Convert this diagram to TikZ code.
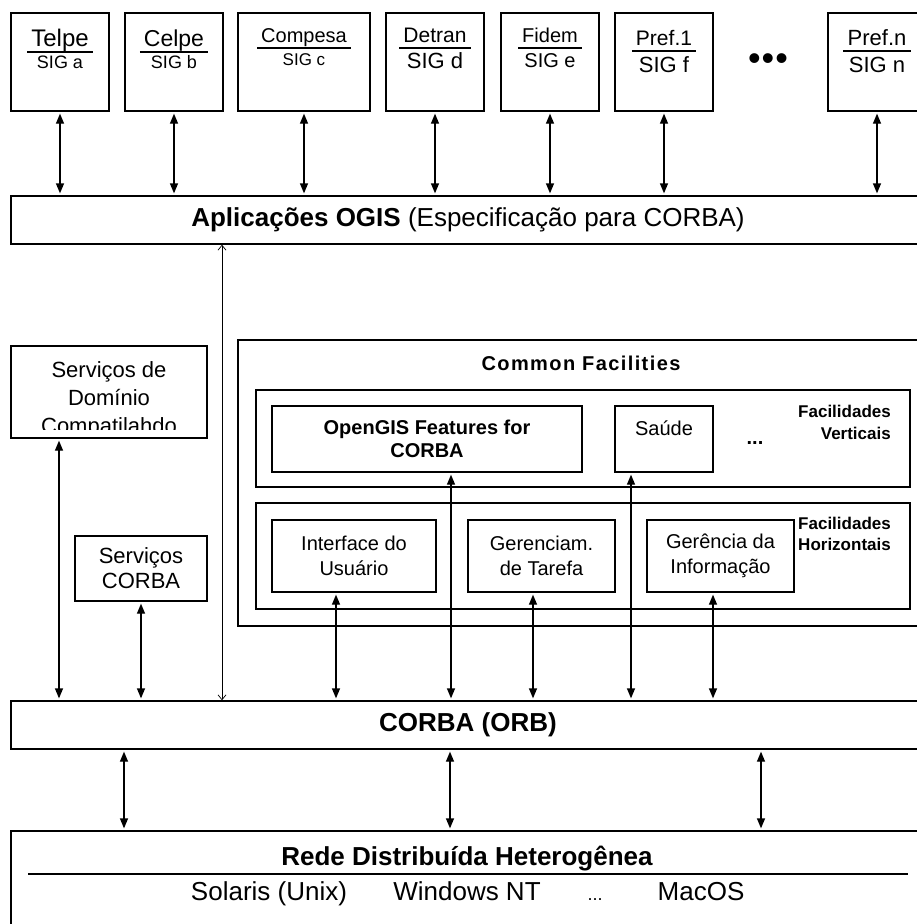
\documentclass[tikz,border=0pt]{standalone}
\usepackage{fontspec}
\setmainfont{Liberation Sans}
\usetikzlibrary{arrows.meta}

\begin{document}
\begin{tikzpicture}[x=1pt,y=-1pt,
    sysbox/.style={draw, line width=1.3pt, inner sep=0pt, minimum height=98pt},
    layer/.style={draw, line width=1.3pt, inner sep=0pt, minimum width=914pt},
    facbox/.style={draw, line width=1.3pt, inner sep=0pt, align=center},
    lbl/.style={inner sep=0pt, align=center},
    link/.style={{Triangle[length=10pt,width=8pt]}-{Triangle[length=10pt,width=8pt]}, line width=1.3pt, shorten <=2pt, shorten >=2pt},
    ogislink/.style={{Straight Barb[length=5pt,width=8pt]}-{Straight Barb[length=5pt,width=8pt]}, line width=0.7pt}]
    \useasboundingbox (0,0) rectangle (916,924);
    % Layers
    \node[layer, minimum height=48pt, font=\fontsize{26}{28}\selectfont] (apps) at (468,220) {\textbf{Aplicações OGIS} (Especificação para CORBA)};
    \node[layer, minimum height=48pt, font=\fontsize{26}{28}\selectfont\bfseries] (corba) at (468,725) {CORBA (ORB)};
    \node[layer, minimum height=100pt] (rede) at (468,881) {};
    % Systems on top
    \foreach \n/\cx/\w/\ttl/\sig/\ts/\ss/\tb/\sb in {
        telpe/60/98/Telpe/SIG a/24/18/46/68,
        celpe/174/98/Celpe/SIG b/23/18/46/68,
        compesa/304/132/Compesa/SIG c/20/17/42/65,
        detran/435/98/Detran/SIG d/21/22/42/68,
        fidem/550/98/Fidem/SIG e/20/20/42/67,
        pref1/664/98/Pref.1/SIG f/21/22/45/72,
        prefn/877/98/Pref.n/SIG n/22/22/45/72}{
      \node[sysbox, minimum width=\w pt] (\n) at (\cx,62) {};
      \node[lbl, anchor=base, font=\fontsize{\ts}{\ts}\selectfont] (\n-t) at (\cx,\tb) {\ttl};
      \draw[line width=1.1pt] ([shift={(-4pt,-6pt)}]\n-t.base west) -- ([shift={(4pt,-6pt)}]\n-t.base east);
      \node[lbl, anchor=base, font=\fontsize{\ss}{\ss}\selectfont] (\n-s) at (\cx,\sb) {\sig};
      \draw[link] (\n) -- (\n |- apps.north);
    }
    \node[lbl, font=\fontsize{36}{36}\selectfont] (tdots) at (768,62) {•\hspace{1pt}•\hspace{1pt}•};
    % Services
    \node[facbox, minimum width=196pt, minimum height=92pt] (dominio) at (109,392) {};
    \begin{scope}
      \clip (11,346) rectangle (207,429);
      \node[lbl, font=\fontsize{22}{28}\selectfont] (dominio-t) at (109,400) {Serviços de\\Domínio\\Compatilahdo};
    \end{scope}
    \node[facbox, minimum width=132pt, minimum height=65pt, font=\fontsize{22}{25}\selectfont] (servcorba) at (141,568.5) {Serviços\\CORBA};
    % Common facilities
    \node[facbox, minimum width=687pt, minimum height=286pt] (common) at (581.5,483) {};
    \node[lbl, font=\fontsize{20}{24}\selectfont\bfseries\addfontfeatures{LetterSpace=7}] (common-t) at (581,363) {Common Facilities};
    \node[facbox, minimum width=654pt, minimum height=97pt] (vert) at (583,438.5) {};
    \node[facbox, minimum width=654pt, minimum height=106pt] (horiz) at (583,556) {};
    \node[facbox, minimum width=310pt, minimum height=66pt, font=\fontsize{20}{23}\selectfont\bfseries] (opengis) at (427,439) {OpenGIS Features for\\CORBA};
    \node[facbox, minimum width=98pt, minimum height=66pt, font=\fontsize{20}{22}\selectfont] (saude) at (664,439) {Saúde\\\mbox{}};
    \node[lbl, font=\fontsize{20}{20}\selectfont\bfseries] (vdots) at (755,443) {...};
    \node[lbl, anchor=east, align=right, font=\fontsize{17}{22}\selectfont\bfseries] (vert-t) at (891,422) {Facilidades\\Verticais};
    \node[facbox, minimum width=164pt, minimum height=72pt, font=\fontsize{20}{25}\selectfont] (interface) at (354,556) {Interface do\\Usuário};
    \node[facbox, minimum width=147pt, minimum height=72pt, font=\fontsize{20}{25}\selectfont] (tarefa) at (541.5,556) {Gerenciam.\\de Tarefa};
    \node[facbox, minimum width=147pt, minimum height=72pt, font=\fontsize{20}{25}\selectfont] (info) at (720.5,556) {Gerência da\\Informação};
    \node[lbl, anchor=east, align=right, font=\fontsize{17}{21}\selectfont\bfseries] (horiz-t) at (891,534) {Facilidades\\Horizontais};
    % Network
    \node[lbl, anchor=base, font=\fontsize{26}{28}\selectfont\bfseries] (rede-t) at (467,865) {Rede Distribuída Heterogênea};
    \draw[line width=1.2pt] (28,874) -- (908,874);
    \node[lbl, anchor=base, font=\fontsize{26}{28}\selectfont] (solaris) at (269,900) {Solaris (Unix)};
    \node[lbl, anchor=base, font=\fontsize{26}{28}\selectfont] (windows) at (467,900) {Windows NT};
    \node[lbl, anchor=base, font=\fontsize{18}{20}\selectfont] (rdots) at (595,900) {...};
    \node[lbl, anchor=base, font=\fontsize{26}{28}\selectfont] (macos) at (701,900) {MacOS};
    % Links to the ORB
    \draw[ogislink] ([xshift=-246pt]apps.south) -- ([xshift=-246pt]apps.south |- corba.north);
    \draw[link] ([xshift=-50pt]dominio.south) -- ([xshift=-50pt]dominio.south |- corba.north);
    \draw[link] (servcorba) -- (servcorba |- corba.north);
    \draw[link] ([xshift=-18pt]interface.south) -- ([xshift=-18pt]interface.south |- corba.north);
    \draw[link] ([xshift=24pt]opengis.south) -- ([xshift=24pt]opengis.south |- corba.north);
    \draw[link] ([xshift=-8.5pt]tarefa.south) -- ([xshift=-8.5pt]tarefa.south |- corba.north);
    \draw[link] ([xshift=-33pt]saude.south) -- ([xshift=-33pt]saude.south |- corba.north);
    \draw[link] ([xshift=-7.5pt]info.south) -- ([xshift=-7.5pt]info.south |- corba.north);
    \draw[link] ([xshift=-344pt]corba.south) -- ([xshift=-344pt]corba.south |- rede.north);
    \draw[link] ([xshift=-18pt]corba.south) -- ([xshift=-18pt]corba.south |- rede.north);
    \draw[link] ([xshift=293pt]corba.south) -- ([xshift=293pt]corba.south |- rede.north);
\end{tikzpicture}
\end{document}
